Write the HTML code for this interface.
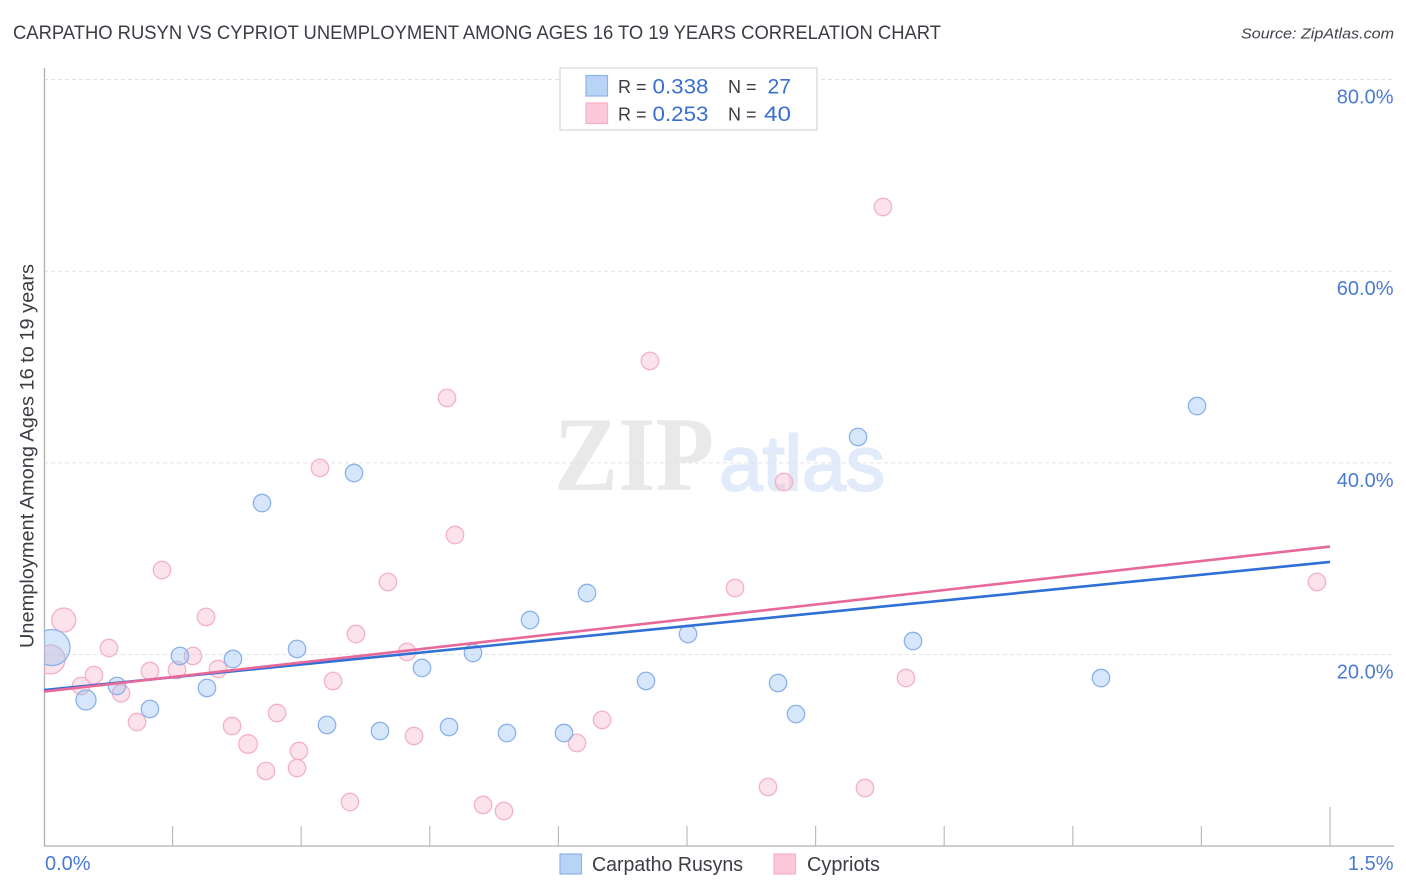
<!DOCTYPE html>
<html lang="en">
<head>
<meta charset="utf-8">
<title>Carpatho Rusyn vs Cypriot Unemployment Correlation Chart</title>
<style>
html,body{margin:0;padding:0;background:#fff;width:1406px;height:892px;overflow:hidden}
svg{display:block;font-family:"Liberation Sans",sans-serif}
</style>
</head>
<body>
<svg id="chart" width="1406" height="892" viewBox="0 0 1406 892" xmlns="http://www.w3.org/2000/svg">
  <defs>
    <clipPath id="plot-clip"><rect x="44" y="60" width="1350" height="786"/></clipPath>
  </defs>
  <text x="13" y="39" font-size="19" fill="#3a3d44" textLength="928" lengthAdjust="spacingAndGlyphs">CARPATHO RUSYN VS CYPRIOT UNEMPLOYMENT AMONG AGES 16 TO 19 YEARS CORRELATION CHART</text>
  <text x="1241" y="38.5" font-size="15" font-style="italic" fill="#3f4248" textLength="153" lengthAdjust="spacingAndGlyphs">Source: ZipAtlas.com</text>
  <g id="watermark">
    <text x="554" y="490" font-family="'Liberation Serif',serif" font-weight="bold" font-size="106" fill="#e9e9e9" textLength="160" lengthAdjust="spacingAndGlyphs">ZIP</text>
    <text x="719" y="490" font-size="78" fill="#e1ebfa" stroke="#e1ebfa" stroke-width="2" textLength="166" lengthAdjust="spacingAndGlyphs">atlas</text>
  </g>
  <g id="grid"></g>
  <g id="axes"></g>
  <g clip-path="url(#plot-clip)">
    <g id="pink-points"></g>
    <g id="blue-points"></g>
    <g id="trends"></g>
  </g>
  <text transform="translate(33.5,456) rotate(-90)" text-anchor="middle" font-size="19" fill="#3a3d44" textLength="384" lengthAdjust="spacingAndGlyphs">Unemployment Among Ages 16 to 19 years</text>
  <g>
    <rect x="560" y="68" width="257" height="62" fill="#fff" stroke="#dedede" stroke-width="1.5"/>
    <rect x="586" y="75.5" width="21.5" height="20.5" fill="#b9d3f7" stroke="#8db3e8" stroke-width="1.2"/>
    <rect x="586" y="103" width="21.5" height="20.5" fill="#fcc8da" stroke="#f5afc8" stroke-width="1.2"/>
    <text x="618" y="93" font-size="18" fill="#3a3d44">R =</text>
    <text x="652.5" y="93.5" font-size="21" fill="#3b6fd1" textLength="56" lengthAdjust="spacingAndGlyphs">0.338</text>
    <text x="728" y="93" font-size="18" fill="#3a3d44">N =</text>
    <text x="767.5" y="93.5" font-size="21" fill="#3b6fd1" textLength="23.5" lengthAdjust="spacingAndGlyphs">27</text>
    <text x="618" y="120.5" font-size="18" fill="#3a3d44">R =</text>
    <text x="652.5" y="121" font-size="21" fill="#3b6fd1" textLength="56" lengthAdjust="spacingAndGlyphs">0.253</text>
    <text x="728" y="120.5" font-size="18" fill="#3a3d44">N =</text>
    <text x="764" y="121" font-size="21" fill="#3b6fd1" textLength="27" lengthAdjust="spacingAndGlyphs">40</text>
  </g>
  <g>
    <g>
      <rect x="560" y="854" width="21.5" height="20" fill="#b9d3f7" stroke="#8db3e8" stroke-width="1.2"/>
      <text x="592" y="871" font-size="20" fill="#3a3d44" textLength="151" lengthAdjust="spacingAndGlyphs">Carpatho Rusyns</text>
    </g>
    <g>
      <rect x="774" y="854" width="21.5" height="20" fill="#fcc8da" stroke="#f5afc8" stroke-width="1.2"/>
      <text x="807" y="871" font-size="20" fill="#3a3d44" textLength="73" lengthAdjust="spacingAndGlyphs">Cypriots</text>
    </g>
  </g>
</svg>
<script>
// Chart data
const yTickValues = [20, 40, 60, 80];
const yTickLabels = ['20.0%', '40.0%', '60.0%', '80.0%'];
const xTickValues = [0, 0.15, 0.3, 0.45, 0.6, 0.75, 0.9, 1.05, 1.2, 1.35, 1.5];
const xEndValues = [0, 1.5];
const xEndLabels = ['0.0%', '1.5%'];

const blueX = [0.0093,0.049,0.0851,0.1236,0.1586,0.1901,0.2204,0.2543,0.2951,0.3301,0.3616,0.3919,0.4409,0.4724,0.5004,0.54,0.5669,0.6065,0.6334,0.7022,0.7512,0.8562,0.8771,0.9495,1.0136,1.2329,1.3449];
const blueY = [20.73,15.26,16.72,14.32,19.85,16.51,19.53,35.81,20.58,12.65,38.94,12.02,18.6,12.44,20.16,11.81,23.6,11.81,26.42,17.24,22.14,17.03,13.79,42.7,21.41,17.55,45.93];
const blueWeight = [4.28,1.32,1,1,1,1,1,1,1,1,1,1,1,1,1,1,1,1,1,1,1,1,1,1,1,1,1];

const pinkX = [0.0076,0.023,0.0432,0.0583,0.0758,0.0898,0.1085,0.1236,0.1376,0.1551,0.1738,0.189,0.203,0.2193,0.238,0.2589,0.2718,0.2951,0.2974,0.3219,0.3371,0.3569,0.3639,0.4012,0.4234,0.4316,0.4701,0.4794,0.5121,0.5365,0.6217,0.6509,0.7068,0.806,0.8445,0.8631,0.9576,0.9786,1.0054,1.4848];
const pinkY = [19.48,23.6,16.72,17.86,20.68,15.96,12.96,18.28,28.82,18.39,19.85,23.92,18.49,12.54,10.66,7.85,13.9,8.16,9.93,39.47,17.24,4.61,22.14,27.57,20.27,11.5,46.77,32.47,4.3,3.67,10.77,13.17,50.63,26.94,6.18,38,6.07,66.7,17.55,27.57];
const pinkWeight = [2.78,1.9,1,1,1,1,1,1,1,1,1,1,1,1,1.15,1,1,1,1,1,1,1,1,1,1,1,1,1,1,1,1,1,1,1,1,1,1,1,1,1];

const trendX = [0, 1.5];
const blueTrend = [16.29, 29.66];
const pinkTrend = [16.14, 31.27];

// Axis functions
const NS = 'http://www.w3.org/2000/svg';
function xScale(v) { return 44 + v * (1286 / 1.5); }
function yScale(v) { return 846.2 - v * (191.67 / 20); }
function radius(w) { return 8.7 * Math.sqrt(w); }
function make(tag, parentId, attrs) {
  const el = document.createElementNS(NS, tag);
  for (const k in attrs) el.setAttribute(k, attrs[k]);
  document.getElementById(parentId).appendChild(el);
  return el;
}

// Gridlines and y labels
yTickValues.forEach(function (v, i) {
  const line = make('line', 'grid', {x1: 44, x2: 1394, y1: yScale(v), y2: yScale(v), stroke: '#e2e2e2', 'stroke-width': 1, 'stroke-dasharray': '4 3'});
  
  
  const label = make('text', 'axes', {x: 1393.5, y: yScale(v) + 24, 'text-anchor': 'end', 'font-size': 20, fill: '#4a7ad6'});
  
  
  label.textContent = yTickLabels[i];
});

// Axis lines
const yAxis = make('line', 'axes', {x1: 44.5, x2: 44.5, y1: 68, y2: 846.5, stroke: '#b0b0b0', 'stroke-width': 1.3});


const xAxis = make('line', 'axes', {x1: 44, x2: 1394, y1: 846, y2: 846, stroke: '#b0b0b0', 'stroke-width': 1.3});



// X ticks: the final tick is drawn taller
xTickValues.forEach(function (v, i) {
  if (i === 0) return;
  const top = i === xTickValues.length - 1 ? 807 : 826;
  const tick = make('line', 'axes', {x1: xScale(v), x2: xScale(v), y1: top, y2: 846, stroke: '#bcbcbc', 'stroke-width': 1.2});
  
  
});

// X end labels
xEndValues.forEach(function (v, i) {
  const attrs = i === 0
    ? {x: xScale(v) + 1, y: 870, 'font-size': 20, fill: '#4a7ad6'}
    : {x: 1393.5, y: 870, 'text-anchor': 'end', 'font-size': 20, fill: '#4a7ad6'};
  const label = make('text', 'axes', attrs);
  
  
  label.textContent = xEndLabels[i];
});

// Points
pinkX.forEach(function (v, i) {
  const dot = make('circle', 'pink-points', {cx: xScale(v), cy: yScale(pinkY[i]), r: radius(pinkWeight[i]), fill: 'rgba(248,176,200,0.36)', stroke: '#f3b1c8', 'stroke-width': 1.3});
  
  
});
blueX.forEach(function (v, i) {
  const dot = make('circle', 'blue-points', {cx: xScale(v), cy: yScale(blueY[i]), r: radius(blueWeight[i]), fill: 'rgba(150,192,245,0.38)', stroke: '#8bb2e8', 'stroke-width': 1.3});
  
  
});

// Trend lines
const blueLine = make('line', 'trends', {x1: xScale(trendX[0]), x2: xScale(trendX[1]), y1: yScale(blueTrend[0]), y2: yScale(blueTrend[1]), stroke: '#2f6fd6', 'stroke-width': 2.6});


const pinkLine = make('line', 'trends', {x1: xScale(trendX[0]), x2: xScale(trendX[1]), y1: yScale(pinkTrend[0]), y2: yScale(pinkTrend[1]), stroke: '#e8689a', 'stroke-width': 2.6});


</script>
</body>
</html>
